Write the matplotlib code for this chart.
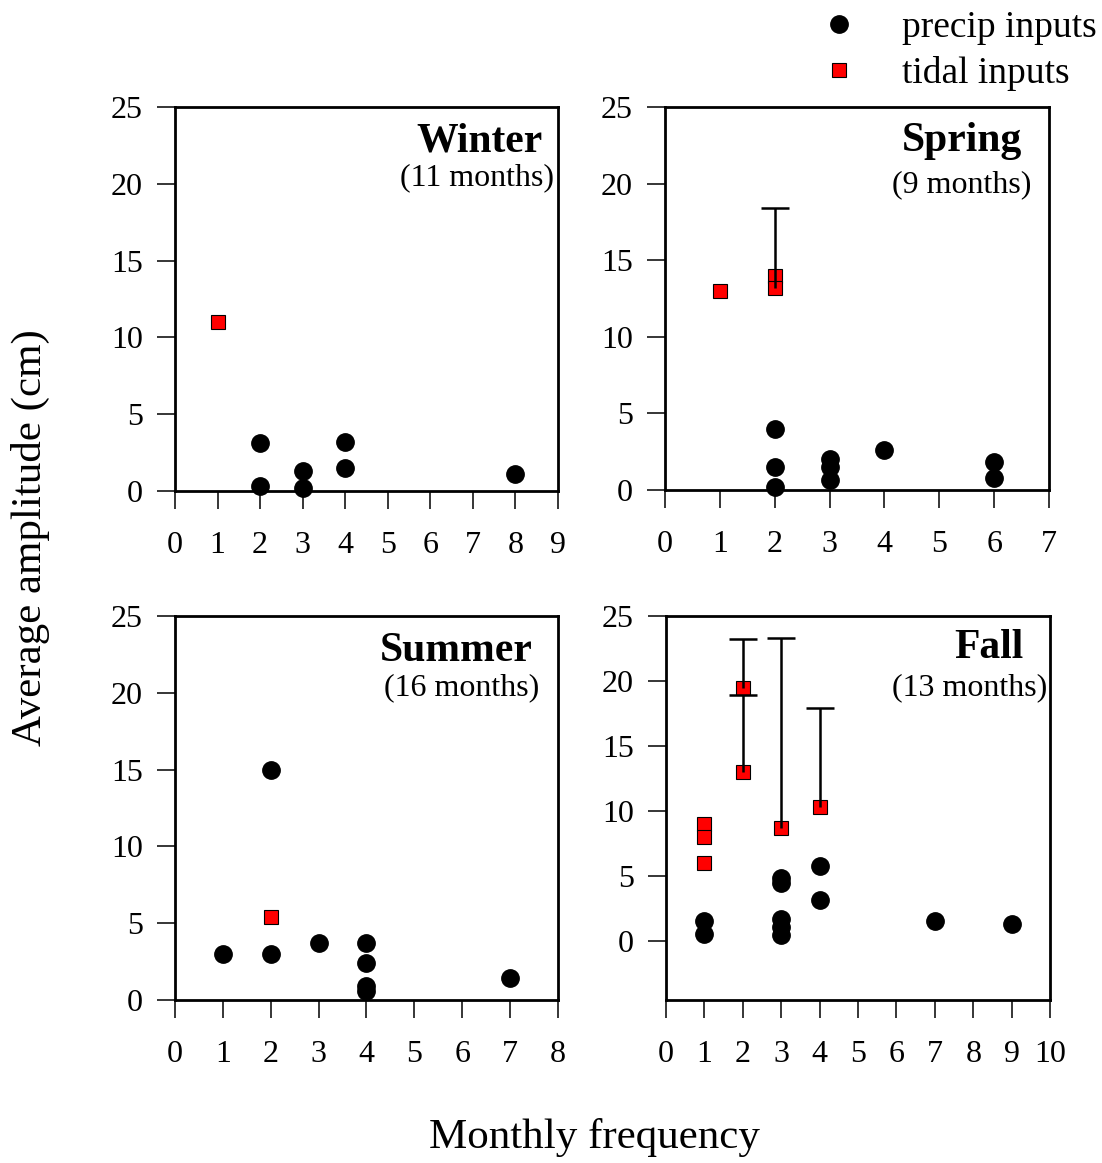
import matplotlib
matplotlib.use("Agg")
import matplotlib.pyplot as plt

plt.rcParams['font.family'] = ['Liberation Serif', 'DejaVu Serif']

# season panels: names, month counts, x-axis upper limits
seasons = ['Winter', 'Spring', 'Summer', 'Fall']
months = [11, 9, 16, 13]
x_max = [9, 7, 8, 10]
y_min = [0, 0, 0, -4.5]

# precip inputs (frequency, amplitude cm)
precip_x = {
    'Winter': [2, 2, 3, 3, 4, 4, 8],
    'Spring': [2, 2, 2, 3, 3, 3, 4, 6, 6],
    'Summer': [1, 2, 2, 3, 4, 4, 4, 4, 7],
    'Fall': [1, 1, 3, 3, 3, 3, 3, 4, 4, 7, 9],
}
precip_y = {
    'Winter': [3.1, 0.3, 1.3, 0.2, 3.2, 1.5, 1.1],
    'Spring': [4.0, 1.5, 0.2, 2.05, 1.5, 0.65, 2.6, 1.85, 0.76],
    'Summer': [3.0, 15.0, 3.0, 3.7, 3.7, 2.4, 0.9, 0.6, 1.4],
    'Fall': [1.6, 0.55, 4.9, 4.45, 1.75, 1.1, 0.5, 5.8, 3.2, 1.6, 1.3],
}

# tidal inputs
tidal_x = {
    'Winter': [1],
    'Spring': [1, 2, 2],
    'Summer': [2],
    'Fall': [1, 1, 1, 2, 2, 3, 4],
}
tidal_y = {
    'Winter': [11.0],
    'Spring': [13.0, 14.0, 13.2],
    'Summer': [5.4],
    'Fall': [9.0, 8.0, 6.0, 19.5, 13.0, 8.7, 10.3],
}

# upper-only error bars on tidal points
err_x = {'Spring': [2], 'Fall': [2, 2, 3, 4]}
err_y = {'Spring': [13.2], 'Fall': [19.5, 13.0, 8.7, 10.3]}
err_up = {'Spring': [5.2], 'Fall': [3.7, 5.9, 14.6, 7.6]}

# label placement (axes fraction): title right x, title y, sub right x, sub y
label_pos = {
    'Winter': (0.961, 0.911, 0.990, 0.815),
    'Spring': (0.930, 0.911, 0.954, 0.796),
    'Summer': (0.935, 0.909, 0.951, 0.8125),
    'Fall': (0.932, 0.917, 0.993, 0.8125),
}

fig = plt.figure(figsize=(11.02, 11.63), dpi=100)
rects = [
    [0.1588, 0.5778, 0.3475, 0.3302],
    [0.6034, 0.5787, 0.3485, 0.3293],
    [0.1588, 0.1402, 0.3475, 0.3302],
    [0.6044, 0.1402, 0.3485, 0.3302],
]

for i, s in enumerate(seasons):
    ax = fig.add_axes(rects[i])
    ax.plot(precip_x[s], precip_y[s], 'o', color='k', ms=12.5,
            clip_on=False, zorder=3, label='precip inputs')
    ax.plot(tidal_x[s], tidal_y[s], 's', mfc='#ff0000', mec='k', mew=0.8,
            ms=10.5, clip_on=False, zorder=3, label='tidal inputs')
    if s in err_x:
        eb = ax.errorbar(err_x[s], err_y[s],
                         yerr=[[0] * len(err_up[s]), err_up[s]],
                         fmt='none', ecolor='k', elinewidth=1.8, capsize=10,
                         capthick=1.8, zorder=4)
        eb[1][0].set_visible(False)  # no cap at the lower end
    ax.set_xlim(0, x_max[i])
    ax.set_ylim(y_min[i], 25)
    ax.set_xticks(range(x_max[i] + 1))
    ax.set_yticks([0, 5, 10, 15, 20, 25])
    ax.tick_params(direction='out', length=13, width=1.1, labelsize=23)
    ax.tick_params(axis='x', pad=16)
    ax.tick_params(axis='y', pad=10)
    for sp in ax.spines.values():
        sp.set_linewidth(2)
    tx, ty, sx, sy = label_pos[s]
    ax.text(tx, ty, s, transform=ax.transAxes, ha='right', va='center',
            fontsize=30, fontweight='bold')
    ax.text(sx, sy, '(%d months)' % months[i], transform=ax.transAxes,
            ha='right', va='center', fontsize=23)
    if i == 0:
        handles, labels = ax.get_legend_handles_labels()

fig.text(0.028, 0.538, 'Average amplitude (cm)', rotation=90,
         ha='center', va='center', fontsize=31)
fig.text(0.539, 0.022, 'Monthly frequency', ha='center', va='center',
         fontsize=31)

fig.legend(handles, labels, loc='upper right', bbox_to_anchor=(1.0085, 1.004),
           frameon=False, fontsize=27, handletextpad=0.68, labelspacing=0.3,
           borderaxespad=0.0)

fig.savefig('out.png', dpi=100)
